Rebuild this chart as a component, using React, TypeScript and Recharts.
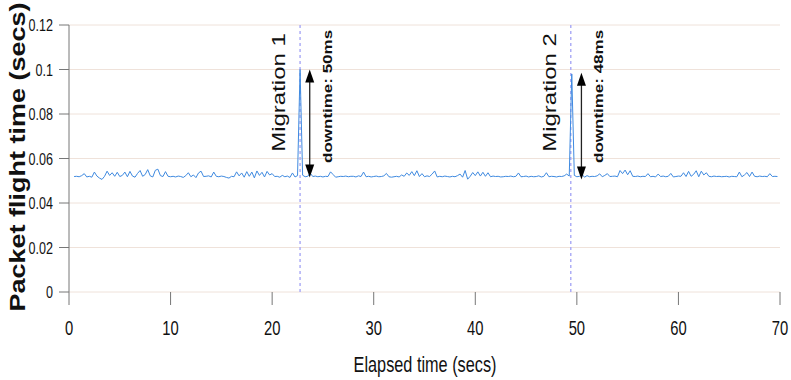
import { CartesianGrid, Line, LineChart, ReferenceDot, ReferenceLine, XAxis, YAxis } from "recharts";

// Sampling of the trace: first sample at 0.5 s, then every 0.25 s.
const START_SEC = 0.5;
const STEP_SEC = 0.25;

// Packet flight time in milliseconds, one row per second (4 samples each).
const flightMs = [
  51.9, 52.0, // 0.5 s
  51.8, 52.3, 53.2, 51.7,
  52.0, 51.6, 53.9, 52.1,
  51.2, 50.6, 52.0, 54.3,
  52.4, 53.6, 52.0, 53.8,
  51.9, 52.4, 53.9, 51.8,
  54.2, 52.1, 51.6, 53.3,
  54.6, 52.0, 52.8, 55.0,
  52.2, 51.7, 54.7, 55.2,
  52.3, 51.9, 54.1, 52.0,
  51.8, 52.0, 51.7, 52.1, // 10 s
  51.9, 51.5, 52.3, 53.6,
  51.8, 52.6, 51.4, 53.5,
  54.3, 51.9, 52.0, 52.2,
  51.7, 53.9, 52.0, 51.8,
  52.1, 51.9, 51.5, 51.2,
  52.0, 51.8, 54.0, 52.2,
  53.5, 51.6, 54.1, 52.0,
  53.9, 51.3, 54.4, 52.4,
  53.8, 51.7, 54.2, 52.6,
  53.2, 51.9, 52.0, 51.6, // 20 s
  52.4, 51.8, 52.1, 51.5,
  53.5, 51.7, 52.3, 100.0, // migration 1
  52.5, 51.8, 52.0, 53.4,
  51.9, 52.1, 51.8, 52.0,
  51.7, 52.0, 51.9, 54.0,
  52.8, 51.6, 51.8, 52.0,
  51.9, 52.1, 51.8, 52.0,
  52.0, 51.7, 52.2, 51.9,
  53.9, 51.8, 52.0, 51.7,
  51.9, 52.1, 51.8, 51.9, // 30 s
  52.2, 53.3, 51.8, 51.6,
  51.8, 52.0, 51.7, 52.6,
  52.0, 53.5, 52.4, 54.1,
  52.3, 54.5, 51.9, 53.2,
  51.8, 52.2, 51.9, 53.0,
  54.4, 51.7, 52.0, 51.8,
  52.1, 51.9, 51.7, 52.0,
  51.8, 52.3, 53.0, 51.6,
  54.6, 50.7, 52.0, 53.7,
  52.3, 54.0, 52.1, 53.8, // 40 s
  52.0, 53.6, 51.8, 52.1,
  51.9, 52.0, 51.7, 51.8,
  52.0, 51.9, 52.1, 51.8,
  52.0, 53.5, 51.8, 51.9,
  52.1, 51.7, 52.0, 51.8,
  51.9, 52.2, 51.7, 52.0,
  53.6, 51.8, 52.0, 51.9,
  51.7, 52.0, 51.9, 52.2,
  53.0, 52.1, 98.0, 52.4, // migration 2
  51.8, 52.0, 52.9, 51.6, // 50 s
  52.3, 51.8, 52.0, 51.9,
  52.2, 53.1, 51.8, 52.4,
  53.2, 51.9, 52.0, 52.1,
  51.8, 54.6, 53.2, 54.8,
  52.7, 54.5, 52.0, 51.9,
  52.1, 51.8, 52.0, 51.9,
  53.2, 51.8, 52.0, 51.7,
  53.0, 51.9, 52.1, 51.8,
  52.0, 53.3, 51.7, 51.9,
  52.1, 52.0, 53.6, 51.9, // 60 s
  54.2, 52.0, 52.9, 54.5,
  51.8, 54.3, 52.6, 53.6,
  52.0, 51.8, 52.1, 51.9,
  52.0, 51.8, 51.9, 52.0,
  51.7, 52.0, 51.9, 51.8,
  53.9, 51.8, 52.6, 53.7,
  51.9, 53.9, 52.0, 51.8,
  52.1, 51.9, 52.0, 51.8,
  53.2, 51.9, 52.0, 51.9,
];

const xTicks = [0, 10, 20, 30, 40, 50, 60, 70];
const yTicks = [0, 0.02, 0.04, 0.06, 0.08, 0.1, 0.12];

const migrationNames = ["Migration 1", "Migration 2"];
const migrationAt = [22.75, 49.4];
const downtimeLabels = ["downtime: 50ms", "downtime: 48ms"];
const downtimeAt = [23.7, 50.45];
const downtimeTop = [0.1, 0.0985];
const downtimeBottom = [0.0515, 0.0506];

const data = flightMs.map((ms, i) => ({ t: START_SEC + i * STEP_SEC, v: ms / 1000 }));

// the source picture is squeezed horizontally, so every text is too
const SQUEEZE = 0.74;
const FONT = "'Liberation Sans', Arial, Helvetica, sans-serif";
const INK = "#111";
const AXIS = "#777";

function XTick({ x, y, payload }: any) {
  return (
    <text
      transform={`translate(${x},${y + 28}) scale(${SQUEEZE},1)`}
      textAnchor="middle"
      fontSize={20}
      fontFamily={FONT}
      fill={INK}
    >
      {payload.value}
    </text>
  );
}

function YTick({ x, y, payload }: any) {
  return (
    <text
      transform={`translate(${x - 4},${y + 6}) scale(${SQUEEZE},1)`}
      textAnchor="end"
      fontSize={17}
      fontFamily={FONT}
      fill={INK}
    >
      {String(payload.value)}
    </text>
  );
}

// vertical text reading bottom-to-top, squeezed across the glyphs
function upText(x: number, y: number, size: number, label: string, weight = "normal") {
  return (
    <text
      transform={`translate(${x},${y}) rotate(-90) scale(1,${SQUEEZE})`}
      textAnchor="start"
      fontSize={size}
      fontWeight={weight}
      fontFamily={FONT}
      fill={INK}
    >
      {label}
    </text>
  );
}

function DoubleArrow(props: any) {
  const { x1, y1, x2, y2 } = props;
  const top = Math.min(y1, y2);
  const bot = Math.max(y1, y2);
  const x = x1;
  return (
    <g>
      <line x1={x} x2={x2} y1={top + 10} y2={bot - 10} stroke="#222" strokeWidth={1.3} />
      <polygon points={`${x},${top} ${x - 4.5},${top + 13} ${x + 4.5},${top + 13}`} fill="#000" />
      <polygon points={`${x},${bot} ${x - 4.5},${bot - 13} ${x + 4.5},${bot - 13}`} fill="#000" />
    </g>
  );
}

export default function App() {
  return (
    <div style={{ position: "absolute", left: 0, top: 0, width: 791, height: 380, background: "#fff" }}>
      <LineChart width={791} height={380} data={data} margin={{ top: 25, right: 11, left: 9, bottom: 28 }}>
        <CartesianGrid horizontal vertical={false} stroke="#efe2da" />
        <XAxis
          dataKey="t"
          type="number"
          domain={[0, 70]}
          ticks={xTicks}
          interval={0}
          height={60}
          tickSize={13}
          axisLine={false}
          tickLine={{ stroke: AXIS }}
          tick={<XTick />}
        />
        <YAxis
          type="number"
          domain={[0, 0.12]}
          ticks={yTicks}
          interval={0}
          width={60}
          tickSize={10}
          axisLine={{ stroke: AXIS }}
          tickLine={{ stroke: AXIS }}
          tick={<YTick />}
        />
        {migrationAt.map((at, i) => (
          <ReferenceLine key={`m${i}`} x={at} stroke="#aeaef6" strokeWidth={1.5} strokeDasharray="3 3" />
        ))}
        <Line type="linear" dataKey="v" stroke="#3f8ae0" strokeWidth={1} dot={false} isAnimationActive={false} />
        {downtimeAt.map((at, i) => (
          <ReferenceLine
            key={`a${i}`}
            segment={[
              { x: at, y: downtimeTop[i] },
              { x: at, y: downtimeBottom[i] },
            ]}
            shape={DoubleArrow}
          />
        ))}
        {migrationAt.map((at, i) => (
          <ReferenceDot
            key={`n${i}`}
            x={at}
            y={0.063}
            r={0}
            shape={(p: any) => upText(p.cx - 15, p.cy, 24, migrationNames[i])}
          />
        ))}
        {downtimeAt.map((at, i) => (
          <ReferenceDot
            key={`d${i}`}
            x={at}
            y={0.058}
            r={0}
            shape={(p: any) => upText(p.cx + 22, p.cy, 17, downtimeLabels[i], "bold")}
          />
        ))}
        <text
          transform={`translate(25,157) rotate(-90) scale(1,0.8)`}
          textAnchor="middle"
          fontSize={27}
          fontWeight="bold"
          fontFamily={FONT}
          fill={INK}
        >
          Packet flight time (secs)
        </text>
        <text
          transform={`translate(425,372) scale(${SQUEEZE},1)`}
          textAnchor="middle"
          fontSize={22}
          fontFamily={FONT}
          fill={INK}
        >
          Elapsed time (secs)
        </text>
      </LineChart>
    </div>
  );
}
